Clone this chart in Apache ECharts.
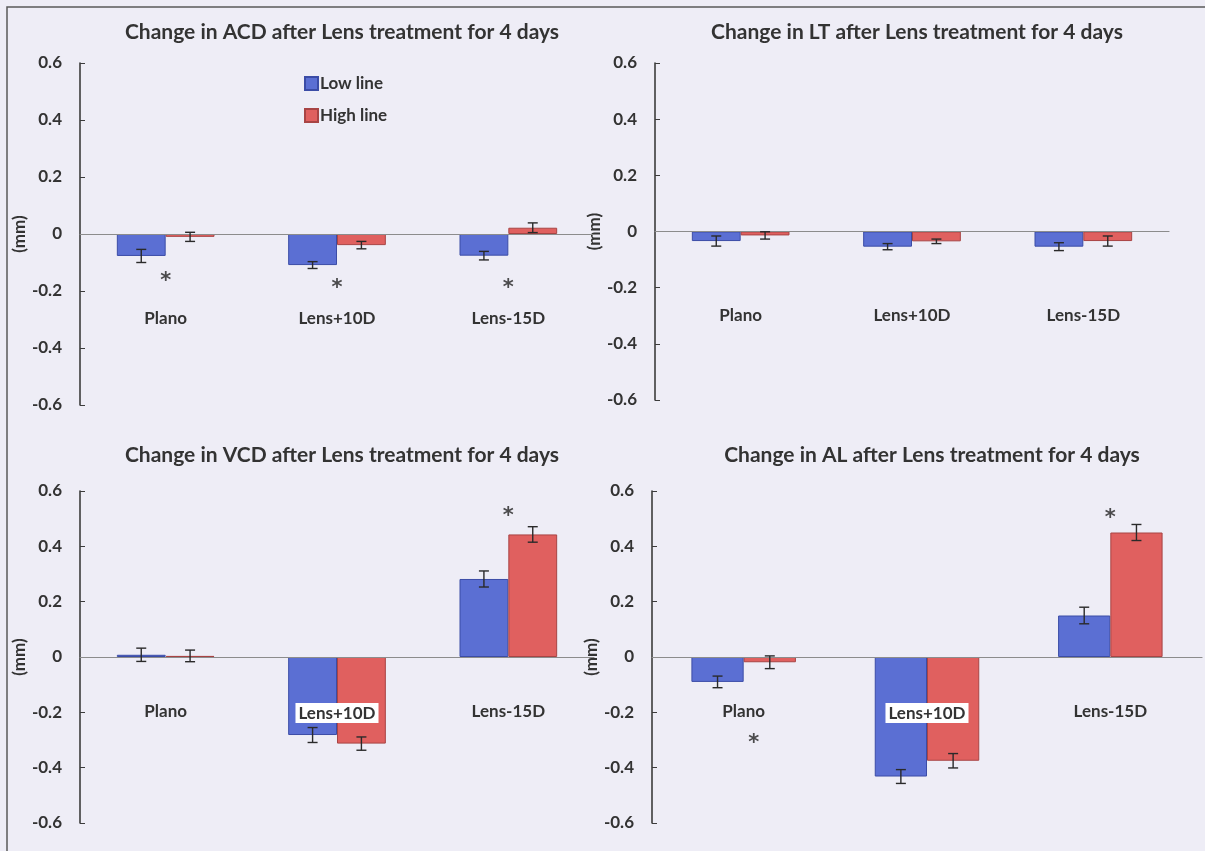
<!DOCTYPE html>
<html>
<head>
<meta charset="utf-8">
<title>Change in ocular components after lens treatment</title>
<script src="https://cdn.jsdelivr.net/npm/echarts@6/dist/echarts.min.js"></script>
<style>
  html, body { margin: 0; padding: 0; background: #eeedf6; }
  #chart { width: 1205px; height: 851px; }
</style>
</head>
<body>
<div id="chart"></div>
<script>
// Groups along each x axis
const categories = ['Plano', 'Lens+10D', 'Lens-15D'];
const yTicks = [-0.6, -0.4, -0.2, 0, 0.2, 0.4, 0.6];

// Change in anterior chamber depth (mm): mean and SE
const acdLow = [-0.077, -0.109, -0.076];
const acdLowErr = [0.023, 0.012, 0.015];
const acdHigh = [-0.010, -0.039, 0.022];
const acdHighErr = [0.016, 0.013, 0.017];

// Change in lens thickness (mm)
const ltLow = [-0.034, -0.054, -0.054];
const ltLowErr = [0.018, 0.011, 0.014];
const ltHigh = [-0.014, -0.035, -0.034];
const ltHighErr = [0.013, 0.008, 0.018];

// Change in vitreous chamber depth (mm)
const vcdLow = [0.008, -0.282, 0.282];
const vcdLowErr = [0.024, 0.027, 0.029];
const vcdHigh = [0.004, -0.313, 0.443];
const vcdHighErr = [0.021, 0.024, 0.028];

// Change in axial length (mm)
const alLow = [-0.090, -0.432, 0.150];
const alLowErr = [0.021, 0.025, 0.030];
const alHigh = [-0.019, -0.375, 0.450];
const alHighErr = [0.023, 0.026, 0.029];

// Significance markers: [group index, height in mm]
const acdStars = [[0, -0.147], [1, -0.172], [2, -0.172]];
const ltStars = [];
const vcdStars = [[2, 0.53]];
const alStars = [[0, -0.29], [2, 0.523]];

const panelTitles = [
  'Change in ACD after Lens treatment for 4 days',
  'Change in LT after Lens treatment for 4 days',
  'Change in VCD after Lens treatment for 4 days',
  'Change in AL after Lens treatment for 4 days'
];

const FONT = 'Lato, "Open Sans", sans-serif';
const INK = '#333333';
const BLUE = '#5b6fd3';
const BLUE_EDGE = '#3b4ca6';
const RED = '#e0605f';
const RED_EDGE = '#a84444';
const CAT_GAP = 0.43;

// starNudge: horizontal pixel nudge of a marker, keyed by group index
const panels = [
  { low: acdLow, lowErr: acdLowErr, high: acdHigh, highErr: acdHighErr, stars: acdStars,
    grid: { left: 80, top: 63, width: 514, height: 342 }, labelMargin: 76, whiteLabel: false, starNudge: {} },
  { low: ltLow, lowErr: ltLowErr, high: ltHigh, highErr: ltHighErr, stars: ltStars,
    grid: { left: 655, top: 63, width: 514, height: 337 }, labelMargin: 76, whiteLabel: false, starNudge: {} },
  { low: vcdLow, lowErr: vcdLowErr, high: vcdHigh, highErr: vcdHighErr, stars: vcdStars,
    grid: { left: 80, top: 491, width: 514, height: 332 }, labelMargin: 46, whiteLabel: true, starNudge: {} },
  { low: alLow, lowErr: alLowErr, high: alHigh, highErr: alHighErr, stars: alStars,
    grid: { left: 652, top: 491, width: 550, height: 332 }, labelMargin: 46, whiteLabel: true, starNudge: { 0: 10 } }
];

// Error bar drawn as an I-beam, shifted onto the left or right bar of a group
function errorBarRenderer(side) {
  return function (params, api) {
    const cat = api.value(0);
    const mean = api.value(1);
    const err = api.value(2);
    const band = api.size([1, 0])[0];
    const barW = band * (1 - CAT_GAP) / 2;
    const x = api.coord([cat, mean])[0] + side * barW / 2;
    const yTop = api.coord([cat, mean + err])[1];
    const yBot = api.coord([cat, mean - err])[1];
    const cap = 5;
    const style = { stroke: '#2a2a2a', lineWidth: 1.4, fill: null };
    return {
      type: 'group',
      children: [
        { type: 'line', shape: { x1: x, y1: yTop, x2: x, y2: yBot }, style },
        { type: 'line', shape: { x1: x - cap, y1: yTop, x2: x + cap, y2: yTop }, style },
        { type: 'line', shape: { x1: x - cap, y1: yBot, x2: x + cap, y2: yBot }, style }
      ]
    };
  };
}

const grids = [], xAxes = [], yAxes = [], series = [], titles = [];

panels.forEach((p, i) => {
  grids.push(Object.assign({ outerBoundsMode: 'none', containLabel: false }, p.grid));
  titles.push({
    text: panelTitles[i],
    left: p.grid.left + p.grid.width / 2,
    top: i < 2 ? 17 : 440,
    textAlign: 'center',
    textStyle: { fontFamily: FONT, fontWeight: 'bold', fontSize: 21, color: INK }
  });
  // the category axis sits on the zero level (middle of the symmetric value range)
  xAxes.push({
    type: 'category',
    gridIndex: i,
    z: 4,
    data: categories,
    position: 'bottom',
    offset: -p.grid.height / 2,
    axisLine: { onZero: false, lineStyle: { color: '#8c8c8c', width: 1.2 } },
    axisTick: { show: false },
    axisLabel: {
      margin: p.labelMargin,
      fontFamily: FONT, fontWeight: 'bold', fontSize: 17, color: INK,
      formatter: v => (p.whiteLabel && v === 'Lens+10D') ? '{w|' + v + '}' : v,
      rich: {
        w: { backgroundColor: '#ffffff', padding: [2, 3, 1, 3],
             fontFamily: FONT, fontWeight: 'bold', fontSize: 17, color: INK }
      }
    },
    splitLine: { show: false }
  });
  yAxes.push({
    type: 'value',
    gridIndex: i,
    min: yTicks[0],
    max: yTicks[yTicks.length - 1],
    interval: 0.2,
    name: '(mm)',
    nameLocation: 'middle',
    nameRotate: 90,
    nameGap: 52,
    nameTextStyle: { fontFamily: FONT, fontWeight: 'bold', fontSize: 17, color: INK },
    axisLine: { show: true, onZero: false, lineStyle: { color: '#3c3c3c', width: 1.6 } },
    axisTick: { show: true, inside: true, length: 5, lineStyle: { color: '#3c3c3c', width: 1 } },
    axisLabel: {
      margin: 18,
      fontFamily: FONT, fontWeight: 'bold', fontSize: 17, color: INK,
      formatter: v => (Math.abs(v) < 1e-9 ? '0' : v.toFixed(1))
    },
    splitLine: { show: false }
  });

  series.push({
    name: 'Low line', type: 'bar', xAxisIndex: i, yAxisIndex: i,
    data: p.low, barGap: '0%', barCategoryGap: (CAT_GAP * 100) + '%',
    itemStyle: { color: BLUE, borderColor: BLUE_EDGE, borderWidth: 1 }
  });
  series.push({
    name: 'High line', type: 'bar', xAxisIndex: i, yAxisIndex: i,
    data: p.high, barGap: '0%', barCategoryGap: (CAT_GAP * 100) + '%',
    itemStyle: { color: RED, borderColor: RED_EDGE, borderWidth: 1 }
  });
  series.push({
    type: 'custom', xAxisIndex: i, yAxisIndex: i, z: 5,
    renderItem: errorBarRenderer(-1),
    data: p.low.map((v, k) => [k, v, p.lowErr[k]])
  });
  series.push({
    type: 'custom', xAxisIndex: i, yAxisIndex: i, z: 5,
    renderItem: errorBarRenderer(1),
    data: p.high.map((v, k) => [k, v, p.highErr[k]])
  });
  series.push({
    type: 'scatter', xAxisIndex: i, yAxisIndex: i, z: 6,
    symbolSize: 0, silent: true,
    data: p.stars.map(s => ({
      value: s,
      label: { offset: [p.starNudge[s[0]] || 0, 6] }
    })),
    label: {
      show: true, position: 'inside', formatter: '*',
      fontFamily: '"DejaVu Sans", sans-serif', fontWeight: 'bold', fontSize: 21, color: '#222'
    }
  });
});

const chart = echarts.init(document.getElementById('chart'), null, { renderer: 'canvas' });
chart.setOption({
  backgroundColor: '#eeedf6',
  animation: false,
  title: titles,
  legend: {
    data: ['Low line', 'High line'],
    orient: 'vertical',
    left: 299,
    top: 70,
    itemGap: 15,
    itemWidth: 13,
    itemHeight: 13,
    icon: 'rect',
    textStyle: { fontFamily: FONT, fontWeight: 'bold', fontSize: 17, color: INK, padding: [0, 0, 0, -3] }
  },
  grid: grids,
  xAxis: xAxes,
  yAxis: yAxes,
  series: series,
  graphic: [
    // outer frame around the figure (open at the right and bottom edges)
    { type: 'polyline', silent: true,
      shape: { points: [[7, 851], [7, 7], [1205, 7]] },
      style: { stroke: '#5a5a5a', lineWidth: 1.5, fill: null } }
  ]
});
</script>
</body>
</html>
